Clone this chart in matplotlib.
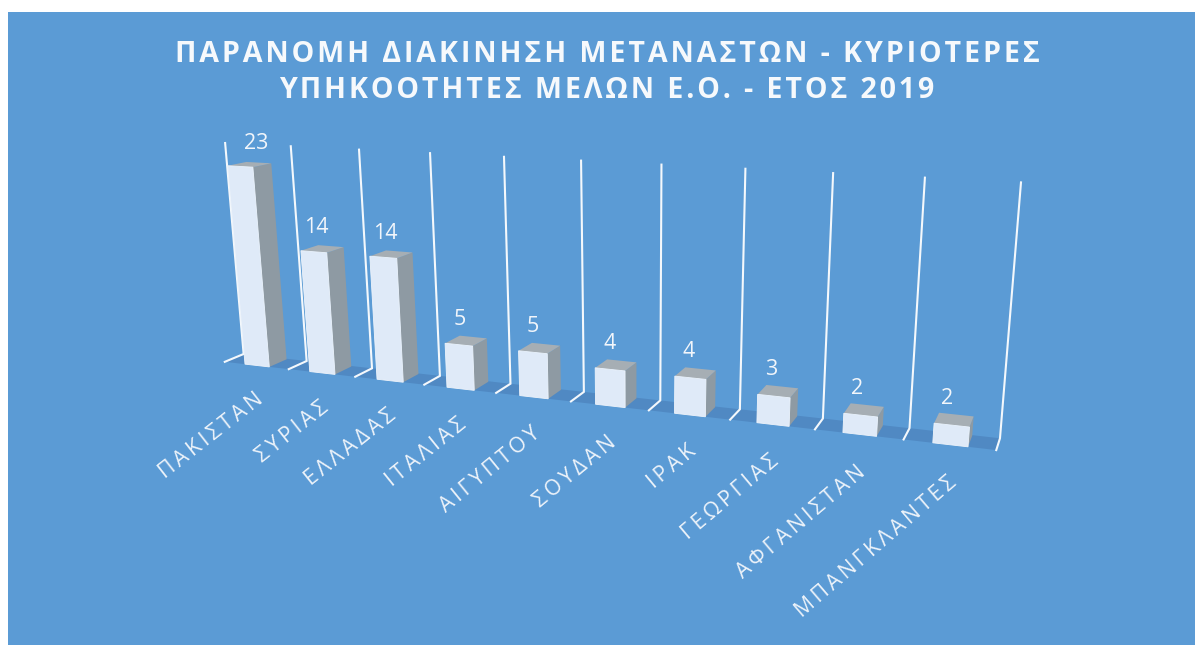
import matplotlib
matplotlib.use("Agg")
import matplotlib.pyplot as plt
from matplotlib.patches import Polygon, Rectangle
import numpy as np

title = ["ΠΑΡΑΝΟΜΗ ΔΙΑΚΙΝΗΣΗ ΜΕΤΑΝΑΣΤΩΝ - ΚΥΡΙΟΤΕΡΕΣ",
         "ΥΠΗΚΟΟΤΗΤΕΣ ΜΕΛΩΝ Ε.Ο. - ΕΤΟΣ 2019"]
categories = ["ΠΑΚΙΣΤΑΝ", "ΣΥΡΙΑΣ", "ΕΛΛΑΔΑΣ", "ΙΤΑΛΙΑΣ", "ΑΙΓΥΠΤΟΥ",
              "ΣΟΥΔΑΝ", "ΙΡΑΚ", "ΓΕΩΡΓΙΑΣ", "ΑΦΓΑΝΙΣΤΑΝ", "ΜΠΑΝΓΚΛΑΝΤΕΣ"]
values = [23, 14, 14, 5, 5, 4, 4, 3, 2, 2]
vmax = 25

plt.rcParams['font.family'] = ['Open Sans', 'DejaVu Sans']

# camera: (x, value, depth) -> pixel, fitted on the wall and floor corners
corners = [
    (0, 0, 0, 225, 362), (0, 0, 1, 243, 354), (0, vmax, 1, 225, 143),
    (1, 0, 0, 289, 369), (1, 0, 1, 307, 360), (1, vmax, 1, 291, 146),
    (2, 0, 0, 355, 377), (2, 0, 1, 372, 368), (2, vmax, 1, 359, 150),
    (3, 0, 0, 424, 385), (3, 0, 1, 440, 377), (3, vmax, 1, 430, 153),
    (4, 0, 0, 496, 393), (4, 0, 1, 511, 384), (4, vmax, 1, 504, 157),
    (8, 0, 0, 815, 429), (8, 0, 1, 823, 418), (8, vmax, 1, 833, 173),
    (9, 0, 0, 903, 439), (9, 0, 1, 909, 427), (9, vmax, 1, 925, 177),
    (10, 0, 0, 997, 450), (10, 0, 1, 1000, 440), (10, vmax, 1, 1021, 183),
]
A, b = [], []
for x, v, z, px, py in corners:
    A.append([x, v, z, 1, 0, 0, 0, 0, -px*x, -px*v, -px*z])
    A.append([0, 0, 0, 0, x, v, z, 1, -py*x, -py*v, -py*z])
    b += [px, py]
P = np.append(np.linalg.lstsq(np.array(A, float), np.array(b, float), rcond=None)[0], 1).reshape(3, 4)


def proj(x, v, z):
    u = P @ np.array([x, v, z, 1.0])
    return u[0]/u[2], u[1]/u[2]


def spaced(s, sep):
    return sep.join(s)


fig = plt.figure(figsize=(11.95, 6.45), dpi=100, facecolor="white")
ax = fig.add_axes([0, 0, 1, 1])
ax.set_xlim(0, 1195)
ax.set_ylim(645, 0)
ax.axis("off")
ax.add_patch(Rectangle((8, 12), 1187, 633, fc="#5B9BD5", ec="none"))

# floor
ax.add_patch(Polygon([proj(0, 0, 0), proj(10, 0, 0), proj(10, 0, 1), proj(0, 0, 1)],
                     fc="#5089C3", ec="none", zorder=1))

# gridlines
for i in range(len(categories)+1):
    pts = np.array([proj(i, 0, 0), proj(i, 0, 1), proj(i, vmax, 1)])
    ax.plot(pts[:, 0], pts[:, 1], color="#F4F8FC", lw=1.5, zorder=2, solid_joinstyle="miter")

# bars
x0, x1 = 0.32, 0.70
z0, z1 = 0.0, 0.95
for i, v in enumerate(values):
    a, c = i+x0, i+x1
    ax.add_patch(Polygon([proj(c, 0, z0), proj(c, 0, z1), proj(c, v, z1), proj(c, v, z0)],
                         fc="#8E9AA3", ec="none", zorder=3))
    ax.add_patch(Polygon([proj(a, v, z0), proj(c, v, z0), proj(c, v, z1), proj(a, v, z1)],
                         fc="#A6AEB4", ec="none", zorder=3))
    ax.add_patch(Polygon([proj(a, 0, z0), proj(c, 0, z0), proj(c, v, z0), proj(a, v, z0)],
                         fc="#DFEAF8", ec="#EEF4FB", lw=0.6, zorder=4))
    px, py = proj(i+0.5, v, 0.5)
    # the first label sits further right than the rest
    ax.text(px+(7 if i == 0 else -6), py-21, str(v), color="#F2F6FB", fontsize=15.5,
            ha="center", va="center", zorder=5)

# category labels
for i, name in enumerate(categories):
    px, py = proj(i+0.5, 0, 0)
    ax.text(px+4, py+32+i*0.4, spaced(name, "\u2009"), color="#EDF3FA", fontsize=15.3,
            rotation=38+i*0.3, rotation_mode="anchor", ha="right", va="center", zorder=5)

ax.text(607, 54, spaced(title[0], "\u200a"), color="#F6F9FC", fontsize=20.6, fontweight="bold",
        ha="center", va="center")
ax.text(607, 90, spaced(title[1], "\u200a"), color="#F6F9FC", fontsize=20.6, fontweight="bold",
        ha="center", va="center")

fig.savefig("out.png", dpi=100)
